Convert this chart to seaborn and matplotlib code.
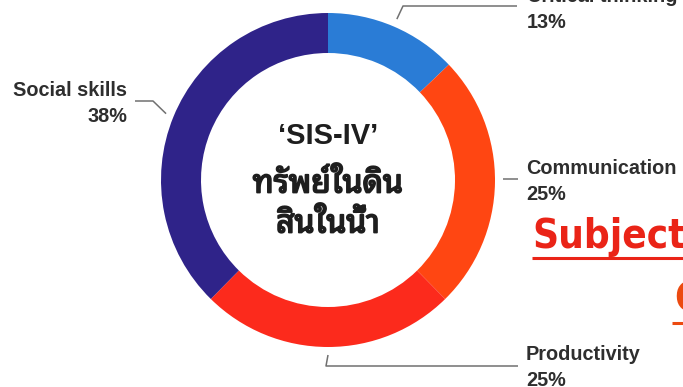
import numpy as np
import matplotlib
matplotlib.use("Agg")
import matplotlib.pyplot as plt
import matplotlib.patheffects as pe
import seaborn as sns
from matplotlib import font_manager as fm
from matplotlib.ft2font import FT2Font

# ---- data ----
categories = ["Critical thinking", "Communication", "Productivity", "Social skills"]
values = [13, 25, 25, 38]
pct_labels = ["13%", "25%", "25%", "38%"]
colors = ["#2a7cd6", "#ff4612", "#fc2a1c", "#2f2389"]
center_lines = ["\u2018SIS-IV\u2019", "ทรัพย์ในดิน", "สินในน้ำ"]
side_title = "Subjects"
side_title2 = "C"

sns.set_theme(style="white")

W, H = 683, 387


def find_family(ch, prefer=()):
    found = []
    for f in fm.fontManager.ttflist:
        try:
            cmap = FT2Font(f.fname).get_charmap()
        except Exception:
            continue
        if ord(ch) in cmap and f.name not in found:
            found.append(f.name)
    for p in prefer:
        for n in found:
            if p.lower() in n.lower():
                return n
    return found[0] if found else "DejaVu Sans"


thai_family = find_family("ท", prefer=("Noto Sans Thai", "Loma", "Garuda", "Sarabun", "Tlwg", "Noto"))

# look for a condensed family for the red heading
narrow, narrow_stretch = "DejaVu Sans", "normal"
cands = [f for f in fm.fontManager.ttflist
         if any(k in (f.name + " " + f.fname).lower() for k in ("narrow", "condensed", "compressed"))]
if cands:
    narrow = cands[0].name
    narrow_stretch = "condensed"
plt.rcParams["font.family"] = ["Liberation Sans", "DejaVu Sans"]

fig = plt.figure(figsize=(W / 100, H / 100), dpi=100)
ax = fig.add_axes([0, 0, 1, 1])

cx, cy, R, ring = 328, 180, 167, 40


def Y(y):
    return H - y


wedges, _ = ax.pie(values, colors=colors, startangle=90, counterclock=False,
                   radius=R, center=(cx, Y(cy)), frame=True,
                   wedgeprops=dict(width=ring, edgecolor="none", linewidth=0))
ax.set_xlim(0, W)
ax.set_ylim(0, H)
ax.set_axis_off()

# leader lines & labels
lab_color = "#2e2e2e"
line_color = "#707070"
fs = 14.3
layout = {
    "Critical thinking": dict(elbow=(403, 6), end=(517, 6), tx=527, ty=-4, ha="left"),
    "Communication": dict(elbow=None, end=(518, 179), tx=526, ty=169, ha="left"),
    "Productivity": dict(elbow=(326, 366), end=(518, 366), tx=526, ty=355, ha="left"),
    "Social skills": dict(elbow=(153, 101), end=(135, 101), tx=127, ty=90, ha="right"),
}
for w, cat, pct in zip(wedges, categories, pct_labels):
    mid = np.deg2rad((w.theta1 + w.theta2) / 2)
    sx = cx + (R + 8) * np.cos(mid)
    sy = cy - (R + 8) * np.sin(mid)
    L = layout[cat]
    if cat == "Communication":
        sy = L["end"][1]
    pts = [(sx, sy)]
    if L["elbow"] is not None:
        pts.append(L["elbow"])
    pts.append(L["end"])
    ax.plot([p[0] for p in pts], [Y(p[1]) for p in pts], color=line_color, lw=1.1,
            solid_capstyle="butt")
    ax.text(L["tx"], Y(L["ty"]), cat, ha=L["ha"], va="center", fontsize=fs,
            fontweight="bold", color=lab_color)
    ax.text(L["tx"], Y(L["ty"] + 26), pct, ha=L["ha"], va="center", fontsize=fs,
            fontweight="bold", color=lab_color)

# center text
ax.text(cx, Y(136), center_lines[0], ha="center", va="center", fontsize=21,
        fontweight="bold", color="#1e1e1e", family=["Liberation Sans", "DejaVu Sans"])
for txt, yy in zip(center_lines[1:], (184, 224)):
    ax.text(cx, Y(yy), txt, ha="center", va="center", fontsize=23,
            fontweight="bold", color="#1e1e1e", family=[thai_family, "DejaVu Sans"],
            path_effects=[pe.withStroke(linewidth=1.3, foreground="#1e1e1e")])

# red side heading (cut off at right edge, as in the reference)
red = "#ea2417"
ax.text(532, Y(248), side_title, ha="left", va="baseline", fontsize=29,
        fontweight="bold", color=red, family=[narrow, "DejaVu Sans"], fontstretch=narrow_stretch)
ax.plot([532, W], [Y(258), Y(258)], color=red, lw=2.2, solid_capstyle="butt")
ax.text(674, Y(311), side_title2, ha="left", va="baseline", fontsize=29,
        fontweight="bold", color="#ec4a10", family=[narrow, "DejaVu Sans"], fontstretch=narrow_stretch)
ax.plot([672, W], [Y(323), Y(323)], color="#ec4a10", lw=2.2, solid_capstyle="butt")

fig.savefig("out.png", dpi=100, facecolor="white")
